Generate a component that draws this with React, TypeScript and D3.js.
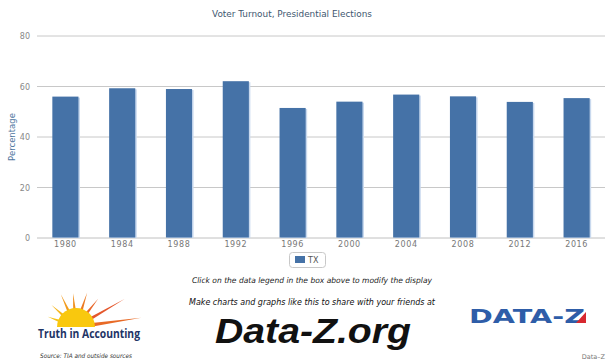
import React from 'react'
import * as d3 from 'd3'

const years = ['1980', '1984', '1988', '1992', '1996', '2000', '2004', '2008', '2012', '2016']
const turnoutTX = [56.0, 59.3, 59.0, 62.1, 51.5, 54.0, 56.8, 56.1, 53.9, 55.4]
const yTicks = [0, 20, 40, 60, 80]

const W = 612
const H = 364
const plot = { left: 37, right: 605, top: 36, bottom: 238 }
const font = '"Lucida Grande", "DejaVu Sans", sans-serif'

function SunLogo() {
  const cx = 76
  const cy = 327
  // rays: angle (deg from +x, counter-clockwise), length, color
  const rays = [
    { a: 160, len: 30, c: '#f5c318' },
    { a: 138, len: 33, c: '#f5b51a' },
    { a: 115, len: 36, c: '#f29b1d' },
    { a: 95, len: 34, c: '#f0901e' },
    { a: 72, len: 36, c: '#ec7a22' },
    { a: 52, len: 36, c: '#e8672a' },
    { a: 30, len: 56, c: '#e4572c' },
    { a: 8, len: 66, c: '#e86a26' },
  ]
  const rad = (deg: number) => (deg * Math.PI) / 180
  return (
    <g>
      {rays.map((r, i) => {
        const half = r.a === 8 ? 4 : 3.2
        const p1 = [cx + 14 * Math.cos(rad(r.a - half * 2)), cy - 14 * Math.sin(rad(r.a - half * 2))]
        const p2 = [cx + 14 * Math.cos(rad(r.a + half * 2)), cy - 14 * Math.sin(rad(r.a + half * 2))]
        const tip = [cx + r.len * Math.cos(rad(r.a)), cy - r.len * Math.sin(rad(r.a))]
        return <polygon key={i} points={`${p1.join(',')} ${tip.join(',')} ${p2.join(',')}`} fill={r.c} />
      })}
      <path d={d3.arc()({ innerRadius: 0, outerRadius: 19, startAngle: -Math.PI / 2, endAngle: Math.PI / 2 }) || ''}
        transform={`translate(${cx},${cy})`} fill="#f9c80e" />
      <text x={38} y={338} fontFamily='"Open Sans", "DejaVu Sans", sans-serif' fontWeight="bold" fontSize={11.5}
        fill="#1e3466" textLength={102} lengthAdjust="spacingAndGlyphs">Truth in Accounting</text>
    </g>
  )
}

function DataZLogo() {
  return (
    <g>
      <text x={469} y={323} fontFamily='"DejaVu Sans", sans-serif' fontWeight="bold" fontSize={20}
        fill="#2e5da8" textLength={116} lengthAdjust="spacingAndGlyphs">DATA-Z</text>
      <polygon points="576,323 586,312 586,323" fill="#d7282f" />
    </g>
  )
}

export default function App() {
  const x = d3.scaleBand().domain(years).range([plot.left, plot.right]).paddingInner(0.54).paddingOuter(0.27)
  const y = d3.scaleLinear().domain([0, 80]).range([plot.bottom, plot.top])

  return (
    <svg width={W} height={H} style={{ position: 'absolute', left: 0, top: 0, background: '#fff' }}>
      <rect width={W} height={H} fill="#fff" />
      <text x={212} y={17} fontFamily={font} fontSize={9.3} fill="#3e576f"
        textLength={160} lengthAdjust="spacingAndGlyphs">
        Voter Turnout, Presidential Elections
      </text>

      {yTicks.map(t => (
        <g key={t}>
          <line x1={plot.left} x2={plot.right} y1={y(t)} y2={y(t)} stroke={t === 0 ? '#c0c0c0' : '#c8c8c8'} strokeWidth={1} />
          <text x={30} y={y(t) + 3} textAnchor="end" fontFamily={font} fontSize={8} fill="#888">{t}</text>
        </g>
      ))}

      <text transform={`translate(15,${(plot.top + plot.bottom) / 2}) rotate(-90)`} textAnchor="middle"
        fontFamily={font} fontSize={8.5} fill="#4d759e">Percentage</text>

      {years.map((yr, i) => {
        const bx = x(yr) as number
        const by = y(turnoutTX[i])
        const bw = x.bandwidth()
        return (
          <g key={yr}>
            <rect x={bx + 1.5} y={by + 1} width={bw} height={plot.bottom - by - 1} fill="#c9d9ee" />
            <rect x={bx} y={by} width={bw} height={plot.bottom - by - 0.5} fill="#4572a7" />
            <text x={bx + bw / 2} y={247} textAnchor="middle" fontFamily={font} fontSize={8} letterSpacing={0.6} fill="#777">{yr}</text>
          </g>
        )
      })}

      {/* legend */}
      <rect x={289.5} y={252.5} width={36} height={15} rx={3} fill="#fff" stroke="#c8c8c8" />
      <rect x={295} y={256} width={10} height={7} fill="#4572a7" />
      <text x={308} y={263} fontFamily={font} fontSize={8} fill="#555">TX</text>

      <text x={192} y={283} fontFamily={font} fontStyle="italic" fontSize={7.8} fill="#222"
        textLength={240} lengthAdjust="spacingAndGlyphs">
        Click on the data legend in the box above to modify the display
      </text>
      <text x={189} y={305} fontFamily={font} fontStyle="italic" fontSize={8.3} fill="#111"
        textLength={246} lengthAdjust="spacingAndGlyphs">
        Make charts and graphs like this to share with your friends at
      </text>
      <text x={215} y={343} fontFamily='"Liberation Sans", Arial, sans-serif' fontWeight="bold" fontStyle="italic" fontSize={35}
        fill="#111" textLength={196} lengthAdjust="spacingAndGlyphs">Data-Z.org</text>

      <SunLogo />
      <text x={40} y={358} fontFamily={font} fontStyle="italic" fontSize={6.2} fill="#333"
        textLength={92} lengthAdjust="spacingAndGlyphs">Source: TIA and outside sources</text>
      <DataZLogo />
      <text x={605} y={359} textAnchor="end" fontFamily={font} fontSize={6.5} fill="#777">Data–Z</text>
    </svg>
  )
}
